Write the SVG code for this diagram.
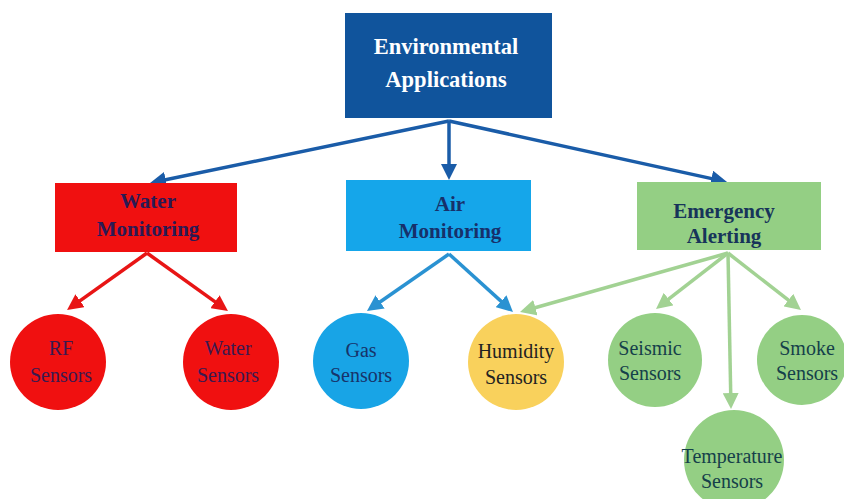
<svg xmlns="http://www.w3.org/2000/svg" width="844" height="499" viewBox="0 0 844 499">
<style>
text{font-family:"Liberation Serif",serif;text-anchor:middle}
.box{font-weight:bold;font-size:21px}
.circ{font-size:20px}
.ln{stroke-width:3.5;fill:none}
</style>
<defs>
<marker id="mTop" markerUnits="userSpaceOnUse" markerWidth="16" markerHeight="16" viewBox="0 0 16 16" refX="5" refY="8" orient="auto"><path d="M0,0 L16,8 L0,16 z" fill="#1a5ca8"/></marker>
<marker id="mRed" markerUnits="userSpaceOnUse" markerWidth="16" markerHeight="16" viewBox="0 0 16 16" refX="5" refY="8" orient="auto"><path d="M0,0 L16,8 L0,16 z" fill="#e81515"/></marker>
<marker id="mBlue" markerUnits="userSpaceOnUse" markerWidth="16" markerHeight="16" viewBox="0 0 16 16" refX="5" refY="8" orient="auto"><path d="M0,0 L16,8 L0,16 z" fill="#2a92d2"/></marker>
<marker id="mGreen" markerUnits="userSpaceOnUse" markerWidth="16" markerHeight="16" viewBox="0 0 16 16" refX="5" refY="8" orient="auto"><path d="M0,0 L16,8 L0,16 z" fill="#a2d293"/></marker>
</defs>
<rect width="844" height="499" fill="#ffffff"/>
<g id="connectors">
<g stroke="#1a5ca8" class="ln" marker-end="url(#mTop)">
<line x1="449" y1="121" x2="160.8" y2="180.8"/>
<line x1="449" y1="121" x2="449" y2="169"/>
<line x1="449" y1="121" x2="716.3" y2="179.6"/>
</g>
<g stroke="#e81515" class="ln" marker-end="url(#mRed)">
<line x1="147" y1="253" x2="76" y2="303.6"/>
<line x1="147" y1="253" x2="219" y2="304.6"/>
</g>
<g stroke="#2a92d2" class="ln" marker-end="url(#mBlue)">
<line x1="449" y1="254" x2="376" y2="304.7"/>
<line x1="449" y1="254" x2="504.8" y2="304.6"/>
</g>
<g stroke="#a2d293" class="ln" marker-end="url(#mGreen)">
<line x1="728" y1="253" x2="530.6" y2="309"/>
<line x1="728" y1="253" x2="664.7" y2="302.2"/>
<line x1="728" y1="253" x2="730.8" y2="398"/>
<line x1="728" y1="253" x2="792.3" y2="303.2"/>
</g>
</g>
<g id="env">
<rect x="345" y="13" width="207" height="105" fill="#10549c"/>
<text class="box" x="446" y="54" fill="#ffffff" style="font-size:22.5px">Environmental</text>
<text class="box" x="446" y="87" fill="#ffffff" style="font-size:22.5px">Applications</text>
</g>
<g id="water">
<rect x="55" y="183" width="182" height="69" fill="#f01010"/>
<text class="box" x="148" y="208" fill="#2a1a55">Water</text>
<text class="box" x="148" y="236" fill="#2a1a55">Monitoring</text>
</g>
<g id="air">
<rect x="346" y="180" width="185" height="71" fill="#15a6ea"/>
<text class="box" x="450" y="211" fill="#17306a">Air</text>
<text class="box" x="450" y="238" fill="#17306a">Monitoring</text>
</g>
<g id="emergency">
<rect x="637" y="182" width="184" height="68" fill="#94cf84"/>
<text class="box" x="724" y="218" fill="#17345a">Emergency</text>
<text class="box" x="724" y="243" fill="#17345a">Alerting</text>
</g>
<g id="rf">
<circle cx="58" cy="362" r="48" fill="#f01010"/>
<text class="circ" x="61" y="355" fill="#3a1a50">RF</text>
<text class="circ" x="61" y="382" fill="#3a1a50">Sensors</text>
</g>
<g id="watersensors">
<circle cx="231" cy="362" r="48" fill="#f01010"/>
<text class="circ" x="228" y="355" fill="#3a1a50">Water</text>
<text class="circ" x="228" y="382" fill="#3a1a50">Sensors</text>
</g>
<g id="gas">
<circle cx="361" cy="361" r="48" fill="#18a4e6"/>
<text class="circ" x="361" y="357" fill="#17336a">Gas</text>
<text class="circ" x="361" y="382" fill="#17336a">Sensors</text>
</g>
<g id="humidity">
<circle cx="516" cy="362" r="48" fill="#f9d15c"/>
<text class="circ" x="516" y="358" fill="#222222">Humidity</text>
<text class="circ" x="516" y="384" fill="#222222">Sensors</text>
</g>
<g id="seismic">
<circle cx="655" cy="360" r="47" fill="#94cf84"/>
<text class="circ" x="650" y="355" fill="#15404a">Seismic</text>
<text class="circ" x="650" y="380" fill="#15404a">Sensors</text>
</g>
<g id="smoke">
<circle cx="802" cy="360" r="45" fill="#94cf84"/>
<text class="circ" x="807" y="355" fill="#15404a">Smoke</text>
<text class="circ" x="807" y="380" fill="#15404a">Sensors</text>
</g>
<g id="temperature">
<circle cx="734" cy="460" r="50" fill="#94cf84"/>
<text class="circ" x="732" y="463" fill="#15404a">Temperature</text>
<text class="circ" x="732" y="488" fill="#15404a">Sensors</text>
</g>
</svg>
